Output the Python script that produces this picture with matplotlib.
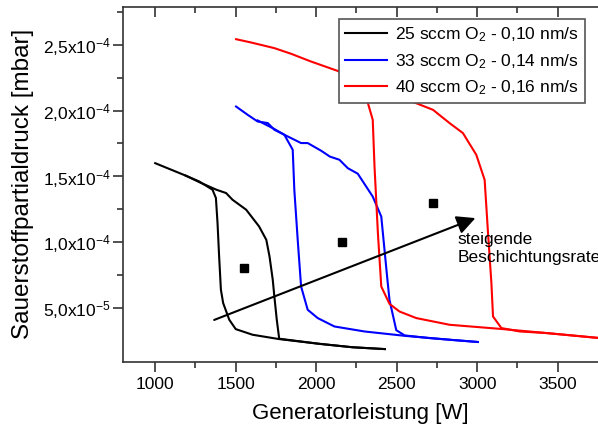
import matplotlib
matplotlib.use("Agg")
import matplotlib.pyplot as plt
import numpy as np

plt.rcParams['font.family'] = ['Liberation Sans', 'DejaVu Sans']
plt.rcParams['mathtext.fontset'] = 'custom'
plt.rcParams['mathtext.rm'] = 'Liberation Sans'

# 25 sccm O2 - sweep up, then back down
p25_up = [1000, 1090, 1190, 1275, 1380, 1440, 1480, 1565, 1645, 1690, 1710, 1730, 1740, 1755, 1770, 2020, 2225, 2426]
o25_up = [1.60e-4, 1.555e-4, 1.505e-4, 1.455e-4, 1.398e-4, 1.373e-4, 1.322e-4, 1.246e-4, 1.119e-4, 1.017e-4,
          0.89e-4, 0.713e-4, 0.586e-4, 0.409e-4, 0.265e-4, 0.226e-4, 0.20e-4, 0.186e-4]
p25_down = [2426, 2225, 2020, 1770, 1605, 1500, 1460, 1422, 1408, 1397, 1387, 1377, 1356, 1273, 1190]
o25_down = [0.186e-4, 0.20e-4, 0.226e-4, 0.262e-4, 0.295e-4, 0.338e-4, 0.409e-4, 0.536e-4, 0.637e-4,
            0.89e-4, 1.145e-4, 1.335e-4, 1.398e-4, 1.461e-4, 1.505e-4]

# 33 sccm O2
p33_up = [1502, 1574, 1636, 1699, 1740, 1802, 1906, 1947, 2030, 2085, 2144, 2196, 2258, 2351, 2404, 2440, 2455, 2497,
          2549, 2700, 2850, 3004]
o33_up = [2.031e-4, 1.968e-4, 1.917e-4, 1.905e-4, 1.854e-4, 1.816e-4, 1.753e-4, 1.753e-4, 1.695e-4, 1.65e-4,
          1.626e-4, 1.562e-4, 1.52e-4, 1.346e-4, 1.194e-4, 0.74e-4, 0.56e-4, 0.33e-4,
          0.29e-4, 0.27e-4, 0.255e-4, 0.24e-4]
p33_down = [3004, 2850, 2549, 2300, 2113, 2009, 1947, 1906, 1885, 1864, 1854, 1802, 1740, 1636]
o33_down = [0.24e-4, 0.255e-4, 0.287e-4, 0.32e-4, 0.358e-4, 0.422e-4, 0.485e-4, 0.662e-4, 1.017e-4,
            1.397e-4, 1.702e-4, 1.816e-4, 1.86e-4, 1.925e-4]

# 40 sccm O2
p40_up = [1502, 1595, 1740, 1844, 1968, 2144, 2269, 2350, 2486, 2611, 2725, 2828, 2911, 2994, 3046, 3067, 3088,
          3098, 3150, 3264, 3430, 3760]
o40_up = [2.543e-4, 2.518e-4, 2.475e-4, 2.432e-4, 2.373e-4, 2.297e-4, 2.249e-4, 2.2e-4, 2.12e-4, 2.061e-4,
          2.006e-4, 1.905e-4, 1.829e-4, 1.664e-4, 1.473e-4, 1.068e-4, 0.688e-4,
          0.434e-4, 0.346e-4, 0.32e-4, 0.308e-4, 0.27e-4]
p40_down = [3760, 3430, 3160, 2828, 2621, 2517, 2455, 2404, 2383, 2362, 2351, 2320, 2300, 2269, 2144]
o40_down = [0.27e-4, 0.308e-4, 0.338e-4, 0.371e-4, 0.422e-4, 0.472e-4, 0.53e-4, 0.662e-4, 1.068e-4,
            1.575e-4, 1.93e-4, 2.061e-4, 2.2e-4, 2.249e-4, 2.297e-4]

# working points
wp_p = [1550, 2160, 2725]
wp_o = [0.80e-4, 1.00e-4, 1.30e-4]

labels = [r'25 sccm O$\mathregular{_2}$ - 0,10 nm/s',
          r'33 sccm O$\mathregular{_2}$ - 0,14 nm/s',
          r'40 sccm O$\mathregular{_2}$ - 0,16 nm/s']
colors = ['black', 'blue', 'red']

yticks = [5e-5, 1e-4, 1.5e-4, 2e-4, 2.5e-4]
yticklabels = [r'5,0x10$\mathregular{^{-5}}$', r'1,0x10$\mathregular{^{-4}}$', r'1,5x10$\mathregular{^{-4}}$',
               r'2,0x10$\mathregular{^{-4}}$', r'2,5x10$\mathregular{^{-4}}$']
xticks = [1000, 1500, 2000, 2500, 3000, 3500]

fig = plt.figure(figsize=(5.98, 4.30), dpi=100)
ax = fig.add_axes([0.2057, 0.1588, 0.7943, 0.8256])

ax.plot(p25_up, o25_up, color=colors[0], lw=1.5, label=labels[0])
ax.plot(p25_down, o25_down, color=colors[0], lw=1.5)
ax.plot(p33_up, o33_up, color=colors[1], lw=1.5, label=labels[1])
ax.plot(p33_down, o33_down, color=colors[1], lw=1.5)
ax.plot(p40_up, o40_up, color=colors[2], lw=1.5, label=labels[2])
ax.plot(p40_down, o40_down, color=colors[2], lw=1.5)
ax.plot(wp_p, wp_o, ls='none', marker='s', ms=6, color='black')

ax.annotate('', xy=(3005, 1.19e-4), xytext=(1350, 0.40e-4),
            arrowprops=dict(arrowstyle='-|>', color='black', lw=1.5, mutation_scale=28))
ax.text(2880, 1.075e-4, 'steigende\nBeschichtungsrate', fontsize=12.5, va='top', ha='left', linespacing=1.2)

ax.set_xlim(800, 3750)
ax.set_ylim(0.9e-5, 2.79e-4)
ax.set_xticks(xticks)
ax.set_xticks(np.arange(1250, 3750, 500), minor=True)
ax.set_yticks(yticks)
ax.set_yticklabels(yticklabels)
ax.set_yticks(np.arange(7.5e-5, 2.79e-4, 5e-5), minor=True)

ax.spines['right'].set_visible(False)
for s in ['left', 'bottom', 'top']:
    ax.spines[s].set_linewidth(1.2)
    ax.spines[s].set_color('#333333')

ax.tick_params(axis='x', which='both', direction='out', top=True, labelsize=12.5, pad=4, color='#333333')
ax.tick_params(axis='y', which='both', direction='out', labelsize=12.5, pad=2, color='#333333')
ax.tick_params(which='major', length=7, width=1.2)
ax.tick_params(which='minor', length=4, width=1.2)
# top ticks point inward
for t in ax.xaxis.get_major_ticks() + ax.xaxis.get_minor_ticks():
    t.tick2line.set_marker(3)

ax.set_xlabel('Generatorleistung [W]', fontsize=16, labelpad=8)
ax.set_ylabel('Sauerstoffpartialdruck [mbar]', fontsize=17.5, labelpad=6)

leg = ax.legend(loc='upper right', bbox_to_anchor=(585 / 598, 1 - 19.3 / 430), bbox_transform=fig.transFigure,
                fontsize=12.5, fancybox=False, framealpha=1, edgecolor='#555555', handlelength=2.4,
                handletextpad=0.5, labelspacing=0.45, borderaxespad=0, borderpad=0.35)
leg.get_frame().set_linewidth(1.2)

plt.savefig('out.png', dpi=100)
